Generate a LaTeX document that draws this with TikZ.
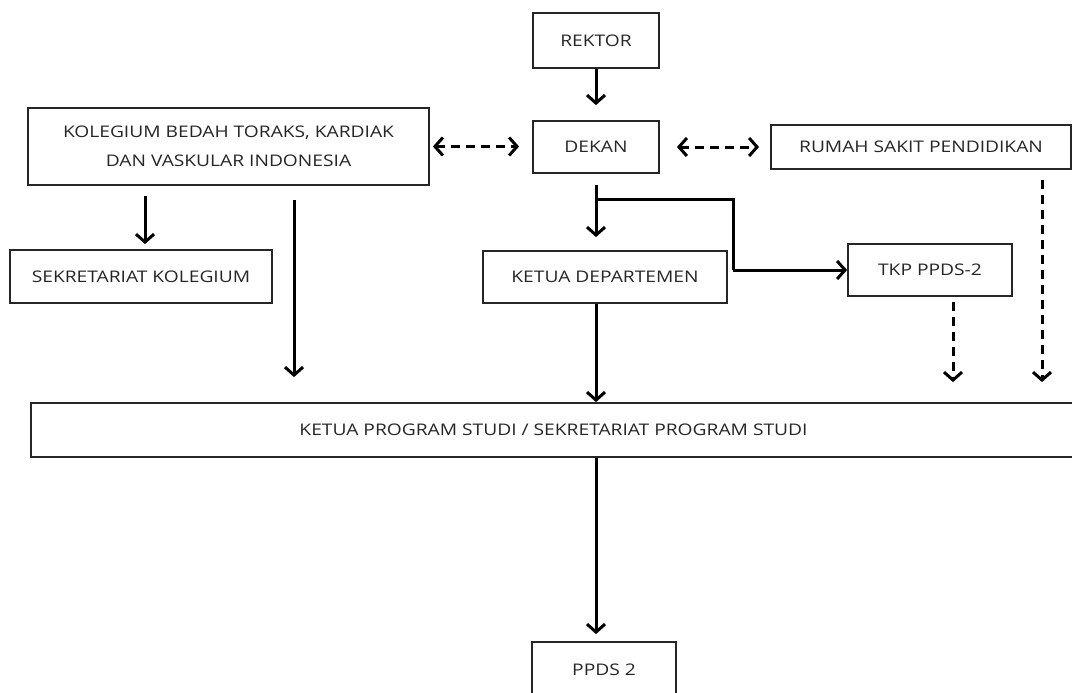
\documentclass[tikz,border=0pt]{standalone}
\usepackage{fontspec}
\setmainfont{Open Sans}[FakeStretch=1.2]
\usetikzlibrary{arrows.meta}
\tikzset{
  box/.style={draw=black!85, line width=1.8pt, inner sep=0pt, align=center, font=\fontsize{16}{29}\selectfont, text=black!85},
  solidarrow/.style={line width=3pt, -{Straight Barb[length=8pt,width=18pt,line width=3pt]}},
  solidline/.style={line width=3pt},
  dasharrow/.style={line width=3pt, dash pattern=on 9pt off 6pt, -{Straight Barb[length=8pt,width=18pt,line width=3pt]}},
  dashboth/.style={line width=3pt, dash pattern=on 9pt off 6pt, {Straight Barb[length=8pt,width=18pt,line width=3pt]}-{Straight Barb[length=8pt,width=18pt,line width=3pt]}},
}
\begin{document}
\begin{tikzpicture}[x=1pt,y=-1pt]
\useasboundingbox[fill=white] (0,0) rectangle (1072,693);
\node[box, minimum width=126pt, minimum height=55pt] (rektor) at (596,40.5) {REKTOR};
\node[box, minimum width=126pt, minimum height=52pt] (dekan) at (596,147) {DEKAN};
\node[box, minimum width=401pt, minimum height=77pt] (kol) at (228.5,146.5) {KOLEGIUM BEDAH TORAKS, KARDIAK\\DAN VASKULAR INDONESIA};
\node[box, minimum width=262pt, minimum height=53pt] (sek) at (141,276.5) {SEKRETARIAT KOLEGIUM};
\node[box, minimum width=300pt, minimum height=44pt] (rs) at (921,147) {RUMAH SAKIT PENDIDIKAN};
\node[box, minimum width=244pt, minimum height=52pt] (kdep) at (605,277) {KETUA DEPARTEMEN};
\node[box, minimum width=164pt, minimum height=52pt] (tkp) at (930,270) {TKP PPDS-2};
\node[box, minimum width=1045pt, minimum height=54pt] (kps) at (553.5,430) {KETUA PROGRAM STUDI / SEKRETARIAT PROGRAM STUDI};
\node[box, minimum width=144pt, minimum height=56pt] (ppds) at (604,670) {PPDS 2};
\coordinate (j) at (596,199);
\coordinate (k) at (733,270);
\coordinate (ka) at (145,185);
\coordinate (kb) at (294,185);
\coordinate (rsd) at (1042,169);
\coordinate (tkd) at (953,296);
% connectors
\draw[solidarrow, shorten >=15pt] (rektor.south) -- (dekan.north);
\draw[solidarrow, shorten <=11pt, shorten >=13pt] (dekan.south) -- (dekan.south |- kdep.north);
\draw[solidline] (j) -| (k);
\draw[solidarrow] (k) -- (tkp.west);
\draw[solidarrow] (dekan.south |- kdep.south) -- (dekan.south |- kps.north);
\draw[solidarrow, shorten >=7pt] (dekan.south |- kps.south) -- (dekan.south |- ppds.north);
\draw[solidarrow, shorten <=11pt, shorten >=5pt] (ka) -- (ka |- sek.north);
\draw[solidarrow, shorten <=15pt, shorten >=25pt] (kb) -- (kb |- kps.north);
\draw[dashboth, shorten <=3pt, shorten >=13pt] (kol.east) -- (kol.east -| dekan.west);
\draw[dashboth, shorten <=17pt, shorten >=11pt] (dekan.east) -- (dekan.east -| rs.west);
\draw[dasharrow, shorten <=11pt, shorten >=20pt] (rsd) -- (rsd |- kps.north);
\draw[dasharrow, shorten <=6pt, shorten >=20pt] (tkd) -- (tkd |- kps.north);
\end{tikzpicture}
\end{document}
